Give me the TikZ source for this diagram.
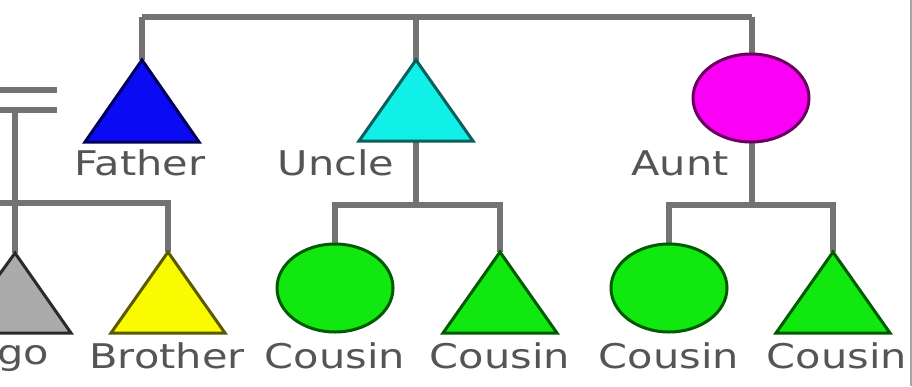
\documentclass[tikz,border=0pt]{standalone}
\usepackage{fontspec}
\usepackage{graphicx}
\setmainfont{DejaVu Sans}
\usetikzlibrary{shapes.geometric}
\definecolor{linegray}{HTML}{737373}
\definecolor{textgray}{HTML}{555555}
\definecolor{fblue}{HTML}{0A0AF5}
\definecolor{dblue}{HTML}{00005A}
\definecolor{fcyan}{HTML}{10F0E8}
\definecolor{dcyan}{HTML}{0A5F5A}
\definecolor{fmag}{HTML}{FA00F5}
\definecolor{dmag}{HTML}{6A005E}
\definecolor{fyel}{HTML}{FAFA00}
\definecolor{dyel}{HTML}{5A5A00}
\definecolor{fgreen}{HTML}{10E810}
\definecolor{dgreen}{HTML}{005A00}
\definecolor{fgray}{HTML}{ABABAB}
\definecolor{dgray}{HTML}{2A2A2A}
\tikzset{
  link/.style={draw=linegray, line width=6pt},
  tri/.style={line width=3pt, line join=miter},
  oval/.style={ellipse, draw, line width=3pt, minimum width=116pt, minimum height=88pt, inner sep=0pt},
  lbl/.style={text=textgray, font=\fontsize{34}{36}\selectfont, inner sep=0pt, anchor=center}
}
\newcommand{\wide}[1]{\scalebox{1.22}[1]{#1}}
\begin{document}
\begin{tikzpicture}[x=1pt,y=-1pt]
\useasboundingbox (0,0) rectangle (912,386);
\fill[white] (0,0) rectangle (912,386);
% anchor coordinates
\coordinate (father) at (142,60);
\coordinate (uncle) at (416,60);
\coordinate (ego) at (15,253);
\coordinate (brother) at (168,252);
\coordinate (cousinB) at (500,252);
\coordinate (cousinD) at (833,252);
\coordinate (topL) at (142,17);
\coordinate (topM) at (416,17);
\coordinate (topR) at (752,17);
\coordinate (mL1) at (0,90);
\coordinate (mR1) at (57,90);
\coordinate (mL2) at (0,110);
\coordinate (mR2) at (57,110);
\coordinate (egoTop) at (15,110);
\coordinate (sibL) at (0,203);
\coordinate (sibR) at (168,203);
\coordinate (uBar) at (416,205);
\coordinate (ucL) at (335,205);
\coordinate (ucR) at (500,205);
\coordinate (aBar) at (752,205);
\coordinate (acL) at (669,205);
\coordinate (acR) at (833,205);
\coordinate (edgeT) at (910.5,0);
\coordinate (edgeB) at (910.5,386);
% connectors
\draw[link] (topL) -- (topR);
\draw[link] (topL) -- (father);
\draw[link] (topM) -- (uBar);
\draw[link] (topR) -- (aBar);
\draw[link] (mL1) -- (mR1);
\draw[link] (mL2) -- (mR2);
\draw[link] (egoTop) -- (ego);
\draw[link] (sibL) -- (sibR) -- (brother);
\draw[link] (ucL |- 0,288) -- (ucL) -- (ucR) -- (cousinB);
\draw[link] (acL |- 0,288) -- (acL) -- (acR) -- (cousinD);
\draw[draw=gray!70, line width=2pt] (edgeT) -- (edgeB);
% shapes
\draw[tri, draw=dblue, fill=fblue] (father) -- ++(57,82) -- ++(-114,0) -- cycle;
\draw[tri, draw=dcyan, fill=fcyan] (uncle) -- ++(57,81) -- ++(-114,0) -- cycle;
\node[oval, draw=dmag, fill=fmag] (aunt) at (751,98) {};
\draw[tri, draw=dgray, fill=fgray] (ego) -- ++(56,80) -- ++(-114,0) -- cycle;
\draw[tri, draw=dyel, fill=fyel] (brother) -- ++(57,81) -- ++(-114,0) -- cycle;
\node[oval, draw=dgreen, fill=fgreen] (cousinA) at (335,288) {};
\draw[tri, draw=dgreen, fill=fgreen] (cousinB) -- ++(57,81) -- ++(-114,0) -- cycle;
\node[oval, draw=dgreen, fill=fgreen] (cousinC) at (669,288) {};
\draw[tri, draw=dgreen, fill=fgreen] (cousinD) -- ++(57,81) -- ++(-114,0) -- cycle;
% labels
\node[lbl] (lfather) at (140,163) {\wide{Father}};
\node[lbl] (luncle) at (336,163) {\wide{Uncle}};
\node[lbl] (launt) at (680,163) {\wide{Aunt}};
\node[lbl] (lego) at (10,356) {\wide{Ego}};
\node[lbl] (lbrother) at (167,356) {\wide{Brother}};
\node[lbl] (lcousinA) at (335,356) {\wide{Cousin}};
\node[lbl] (lcousinB) at (500,356) {\wide{Cousin}};
\node[lbl] (lcousinC) at (669,356) {\wide{Cousin}};
\node[lbl] (lcousinD) at (837,356) {\wide{Cousin}};
\end{tikzpicture}
\end{document}
